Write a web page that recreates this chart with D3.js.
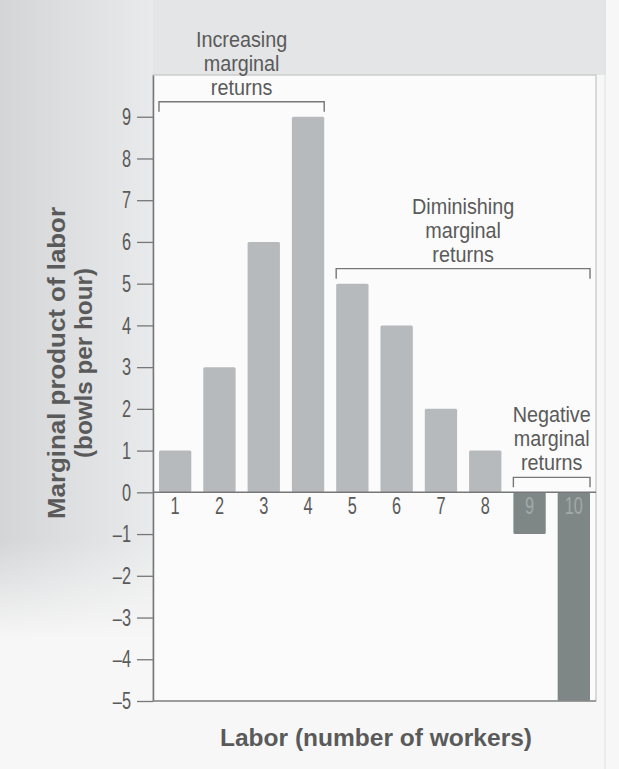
<html>
<head>
    <script src="https://d3js.org/d3.v7.min.js"></script>
    <style>
        body { margin: 0; background: #f6f6f6; }
        .narrow { font-family: "Liberation Sans", Arial, sans-serif; }
        .bold { font-family: "Liberation Sans", Arial, sans-serif; font-weight: bold; }
    </style>
</head>

<body>
    <svg id="plot"></svg>

    <script>
        // data
        var workers = [1, 2, 3, 4, 5, 6, 7, 8, 9, 10];
        var marginalProduct = [1, 3, 6, 9, 5, 4, 2, 1, -1, -5];
        var yTicks = [-5, -4, -3, -2, -1, 0, 1, 2, 3, 4, 5, 6, 7, 8, 9];
        var groupNames = [["Increasing", "marginal", "returns"],
                          ["Diminishing", "marginal", "returns"],
                          ["Negative", "marginal", "returns"]];
        var groupFrom = [1, 5, 9];
        var groupTo = [4, 10, 10];

        var SizeX = 619, SizeY = 769;
        var Frame = { left: 153, right: 596, top: 75, bottom: 701 };
        var digitSqueeze = 0.68, textSqueeze = 0.9;

        var svg = d3.select("#plot")
            .attr("width", SizeX)
            .attr("height", SizeY);

        // squeeze text horizontally to mimic a condensed face
        function squeeze(sel, sx){
            sel.each(function(){
                var t = d3.select(this);
                var x = +t.attr("x") || 0;
                t.attr("x", x / sx).attr("transform", "scale(" + sx + ",1)");
            });
        }

        // scanned page look: grey at top-left fading to white
        var defs = svg.append("defs");
        var gx = defs.append("linearGradient").attr("id", "leftfade")
            .attr("x1", 0).attr("x2", 1).attr("y1", 0).attr("y2", 0);
        gx.append("stop").attr("offset", "0%").attr("stop-color", "#d4d5d7");
        gx.append("stop").attr("offset", "100%").attr("stop-color", "#e9eaeb");
        var gy = defs.append("linearGradient").attr("id", "downfade")
            .attr("x1", 0).attr("x2", 0).attr("y1", 0).attr("y2", 1);
        gy.append("stop").attr("offset", "0%").attr("stop-color", "#f7f7f7").attr("stop-opacity", 0);
        gy.append("stop").attr("offset", "100%").attr("stop-color", "#f7f7f7").attr("stop-opacity", 1);

        svg.append("rect").attr("width", SizeX).attr("height", SizeY).attr("fill", "#f7f7f7");
        svg.append("rect").attr("width", 606).attr("height", Frame.top).attr("fill", "#e4e5e6");
        svg.append("rect").attr("width", Frame.left).attr("height", SizeY).attr("fill", "url(#leftfade)");
        svg.append("rect").attr("y", 540).attr("width", Frame.left).attr("height", 100).attr("fill", "url(#downfade)");
        svg.append("rect").attr("y", 639).attr("width", Frame.left).attr("height", 130).attr("fill", "#f7f7f7");
        svg.append("line").attr("x1", 605).attr("x2", 605).attr("y1", 0).attr("y2", SizeY)
            .attr("stroke", "#e0e0e0");

        // panel
        svg.append("rect")
            .attr("x", Frame.left).attr("y", Frame.top)
            .attr("width", Frame.right - Frame.left).attr("height", Frame.bottom - Frame.top)
            .attr("fill", "#fbfbfb").attr("stroke", "#c4c4c4").attr("stroke-width", 1.2);

        var x_scale = d3.scaleBand()
            .domain(workers)
            .range([Frame.left, Frame.right])
            .paddingInner(0.27)
            .paddingOuter(0.135);

        var y_scale = d3.scaleLinear()
            .domain([-5, 10])
            .range([Frame.bottom, Frame.top]);

        var ink = "#5a5a5a";

        // bars
        var data = workers.map(function(w, i){ return { w: w, v: marginalProduct[i] }; });
        svg.selectAll(".bar")
            .data(data)
            .enter()
                .append("rect").classed("bar", true)
                    .attr("x", function(d){ return x_scale(d.w); })
                    .attr("y", function(d){ return y_scale(Math.max(0, d.v)); })
                    .attr("width", x_scale.bandwidth())
                    .attr("height", function(d){ return Math.abs(y_scale(d.v) - y_scale(0)); })
                    .attr("rx", 1.5)
                    .attr("fill", function(d){ return d.v < 0 ? "#7f8786" : "#b6babc"; });

        // y axis
        var y_axis = d3.axisLeft(y_scale)
            .tickValues(yTicks)
            .tickSize(16)
            .tickPadding(6)
            .tickSizeOuter(0)
            .tickFormat(function(d){ return d < 0 ? "\u2013" + Math.abs(d) : d; });

        var y_axis_g = svg.append("g")
            .attr("transform", "translate(" + Frame.left + " 0)")
            .call(y_axis);
        y_axis_g.select(".domain").attr("stroke", "#777").attr("stroke-width", 1.5);
        y_axis_g.selectAll(".tick line").attr("stroke", "#777").attr("stroke-width", 1.3);
        y_axis_g.selectAll(".tick text")
            .attr("class", "narrow")
            .attr("fill", ink)
            .style("font-size", "24px")
            .call(squeeze, digitSqueeze);

        // bottom frame line
        svg.append("line")
            .attr("x1", Frame.left).attr("x2", Frame.right)
            .attr("y1", y_scale(-5)).attr("y2", y_scale(-5))
            .attr("stroke", "#888").attr("stroke-width", 1.3);

        // x axis through zero
        var x_axis = d3.axisBottom(x_scale).tickSize(0).tickPadding(5);
        var x_axis_g = svg.append("g")
            .attr("transform", "translate(0 " + y_scale(0) + ")")
            .call(x_axis);
        x_axis_g.select(".domain").attr("stroke", "#777").attr("stroke-width", 1.5)
            .attr("d", "M" + Frame.left + ",0H" + Frame.right);
        x_axis_g.selectAll(".tick text")
            .attr("class", "narrow")
            .attr("fill", function(d, i){ return marginalProduct[i] < 0 ? "#a3a8a8" : ink; })
            .style("font-size", "24px")
            .call(squeeze, digitSqueeze);

        // brackets with labels
        groupNames.forEach(function(lines, i){
            var x0 = x_scale(groupFrom[i]);
            var x1 = x_scale(groupTo[i]) + x_scale.bandwidth();
            var top = d3.max(data.filter(function(d){ return d.w >= groupFrom[i] && d.w <= groupTo[i]; }),
                             function(d){ return Math.max(0, d.v); });
            var by = y_scale(top) - 15;
            svg.append("path")
                .attr("d", "M" + x0 + "," + (by + 10) + "V" + by + "H" + x1 + "V" + (by + 10))
                .attr("fill", "none").attr("stroke", "#777").attr("stroke-width", 1.4);
            var t = svg.append("g")
                .attr("transform", "translate(" + ((x0 + x1) / 2) + " 0) scale(" + textSqueeze + ",1)")
                .append("text")
                .attr("class", "narrow")
                .attr("text-anchor", "middle")
                .attr("fill", ink)
                .style("font-size", "22px");
            lines.forEach(function(s, j){
                t.append("tspan")
                    .attr("x", 0)
                    .attr("y", by - 7 - (lines.length - 1 - j) * 24)
                    .text(s);
            });
        });

        // axis titles
        var yt = svg.append("text")
            .attr("class", "bold")
            .attr("text-anchor", "middle")
            .attr("fill", ink)
            .attr("transform", "translate(0 " + 363 + ") rotate(-90)")
            .style("font-size", "23px");
        yt.append("tspan").attr("x", 0).attr("y", 65)
            .attr("textLength", 312).attr("lengthAdjust", "spacingAndGlyphs")
            .text("Marginal product of labor");
        yt.append("tspan").attr("x", 0).attr("y", 92)
            .attr("textLength", 190).attr("lengthAdjust", "spacingAndGlyphs")
            .text("(bowls per hour)");

        svg.append("text")
            .attr("class", "bold")
            .attr("text-anchor", "middle")
            .attr("x", 376)
            .attr("y", 746)
            .attr("fill", ink)
            .attr("textLength", 312).attr("lengthAdjust", "spacingAndGlyphs")
            .style("font-size", "24px")
            .text("Labor (number of workers)");
    </script>
</body>
</html>
